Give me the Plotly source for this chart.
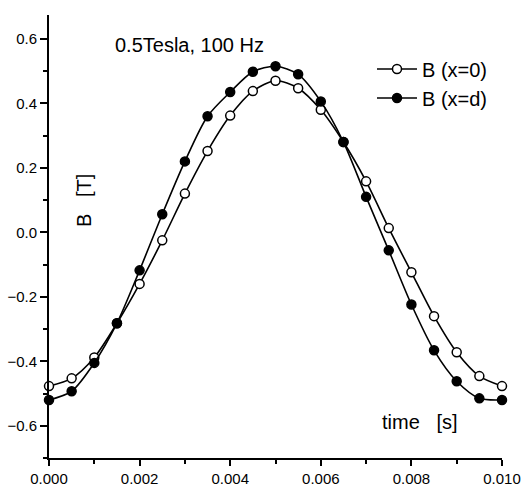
import plotly.graph_objects as go

# time [s]
time = [0.0, 0.0005, 0.001, 0.0015, 0.002, 0.0025, 0.003, 0.0035, 0.004, 0.0045,
        0.005, 0.0055, 0.006, 0.0065, 0.007, 0.0075, 0.008, 0.0085, 0.009, 0.0095, 0.010]

# B at x=0 (open circles)
b_x0 = [-0.477, -0.453, -0.388, -0.282, -0.160, -0.025, 0.120, 0.252, 0.362, 0.438,
        0.470, 0.447, 0.380, 0.280, 0.158, 0.013, -0.124, -0.260, -0.372, -0.446, -0.477]

# B at x=d (filled circles)
b_xd = [-0.520, -0.493, -0.405, -0.282, -0.118, 0.056, 0.220, 0.360, 0.435, 0.498,
        0.515, 0.490, 0.406, 0.280, 0.110, -0.056, -0.224, -0.366, -0.462, -0.515, -0.520]

font_family = "Liberation Sans, Arial, sans-serif"

fig = go.Figure()

fig.add_trace(go.Scatter(
    x=time, y=b_x0, name="B (x=0)", mode="lines+markers",
    line=dict(color="black", width=1.6, shape="spline", smoothing=0.8),
    marker=dict(symbol="circle", size=9, color="white",
                line=dict(color="black", width=1.5)),
    cliponaxis=False,
))

fig.add_trace(go.Scatter(
    x=time, y=b_xd, name="B (x=d)", mode="lines+markers",
    line=dict(color="black", width=1.6, shape="spline", smoothing=0.8),
    marker=dict(symbol="circle", size=9, color="black",
                line=dict(color="black", width=1.5)),
    cliponaxis=False,
))

fig.add_annotation(
    text="0.5Tesla, 100 Hz", xref="paper", yref="paper",
    x=0.141, y=0.932, xanchor="left", yanchor="middle", showarrow=False,
    font=dict(size=20, color="black", family=font_family),
)
fig.add_annotation(
    text="B   [T]", xref="paper", yref="paper",
    x=0.077, y=0.582, xanchor="center", yanchor="middle", showarrow=False,
    textangle=-90, font=dict(size=20, color="black", family=font_family),
)
fig.add_annotation(
    text="time   [s]", xref="paper", yref="paper",
    x=0.731, y=0.081, xanchor="left", yanchor="middle", showarrow=False,
    font=dict(size=20, color="black", family=font_family),
)

fig.update_layout(
    width=522, height=492,
    margin=dict(l=49, r=20, t=15, b=34),
    paper_bgcolor="white", plot_bgcolor="white",
    font=dict(family=font_family, color="black", size=15),
    showlegend=True,
    legend=dict(
        x=0.713, y=0.922, xanchor="left", yanchor="top",
        bgcolor="rgba(0,0,0,0)", font=dict(size=20),
        itemwidth=40, tracegroupgap=0,
    ),
)

fig.update_xaxes(
    range=[0, 0.010], showgrid=False, zeroline=False, automargin=False,
    showline=True, linecolor="black", linewidth=2,
    ticks="outside", ticklen=6, tickwidth=2, tickcolor="black",
    tickvals=[0.0, 0.002, 0.004, 0.006, 0.008, 0.010],
    tickformat=".3f", tickfont=dict(size=15),
    minor=dict(ticks="outside", ticklen=4, tickwidth=1.5, tickcolor="black", dtick=0.001),
)

fig.update_yaxes(
    range=[-0.7, 0.674], showgrid=False, zeroline=False, automargin=False,
    showline=True, linecolor="black", linewidth=2,
    ticks="outside", ticklen=7, tickwidth=2, tickcolor="black",
    tickvals=[-0.6, -0.4, -0.2, 0.0, 0.2, 0.4, 0.6],
    tickformat=".1f", tickfont=dict(size=15),
    minor=dict(ticks="outside", ticklen=4, tickwidth=1.5, tickcolor="black", dtick=0.1),
)

# the page body has an 8px default margin; drop it so the figure fits the window
fig.write_html(
    "out.html",
    config={"displayModeBar": False},
    post_script="document.body.style.margin='0';document.body.style.overflow='hidden';",
)
